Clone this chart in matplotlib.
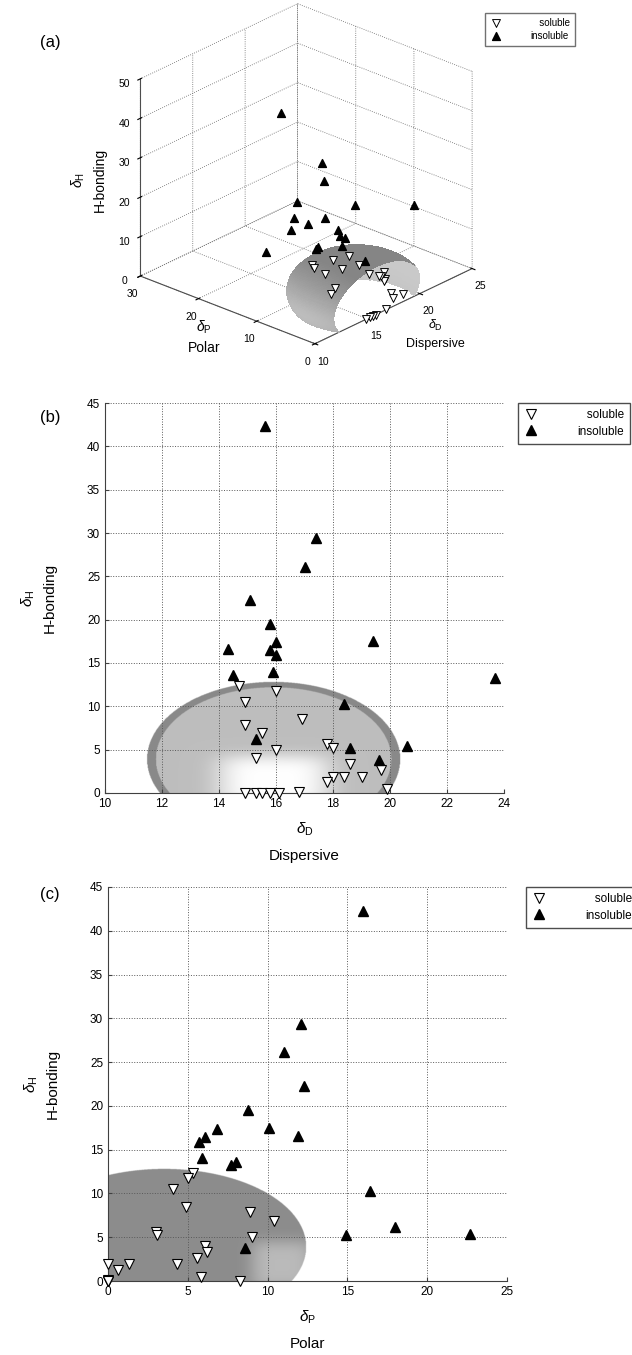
import numpy as np
import matplotlib
matplotlib.use('Agg')
import matplotlib.pyplot as plt

plt.rcParams['font.family'] = ['Liberation Sans', 'DejaVu Sans']
plt.rcParams['mathtext.fontset'] = 'custom'
plt.rcParams['mathtext.rm'] = 'Liberation Sans'
plt.rcParams['mathtext.it'] = 'Liberation Sans:italic'

# Hansen parameters of the solvents (dispersive, polar, H-bonding)
sol_D = [14.7, 16.0, 14.9, 16.9, 14.9, 15.5, 17.8, 18.0, 16.0, 15.3, 18.6, 19.7,
         18.0, 18.4, 19.0, 17.8, 19.9, 16.8, 14.9, 15.3, 15.5, 15.8, 16.1]
sol_P = [5.3, 5.0, 4.1, 4.9, 8.9, 10.4, 3.0, 3.1, 9.0, 6.1, 6.2, 5.6,
         1.3, 0.0, 4.3, 0.6, 5.8, 0.0, 0.0, 0.0, 0.0, 0.0, 8.3]
sol_H = [12.3, 11.8, 10.5, 8.5, 7.9, 6.9, 5.6, 5.2, 5.0, 4.0, 3.3, 2.6,
         1.9, 1.9, 1.9, 1.3, 0.5, 0.1, 0.0, 0.0, 0.0, 0.0, 0.0]

ins_D = [15.6, 17.4, 17.0, 15.1, 15.8, 19.4, 16.0, 14.3, 15.8, 16.0, 15.9, 14.5,
         23.7, 18.4, 15.3, 20.6, 18.6, 19.6]
ins_P = [16.0, 12.1, 11.0, 12.3, 8.8, 10.1, 6.8, 11.9, 6.1, 5.7, 5.9, 8.0,
         7.7, 16.4, 18.0, 22.7, 14.9, 8.6]
ins_H = [42.3, 29.4, 26.1, 22.3, 19.5, 17.5, 17.4, 16.6, 16.5, 15.9, 14.0, 13.6,
         13.3, 10.3, 6.2, 5.4, 5.2, 3.8]

# solubility sphere: centre and radius
sph_D, sph_P, sph_H, sph_R = 15.9, 3.5, 3.9, 8.9

W, H = 632, 1355
fig = plt.figure(figsize=(W / 100, H / 100), dpi=100)

lab_d = r'$\delta_{\mathrm{D}}$' + '\nDispersive'
lab_p = r'$\delta_{\mathrm{P}}$' + '\nPolar'
lab_h = r'$\delta_{\mathrm{H}}$' + '\nH-bonding'
# padded so the legend text sits flush right, like the original
leg_sol, leg_ins = '   soluble', 'insoluble'


def style2d(ax):
    for s in ('top', 'right'):
        ax.spines[s].set_visible(False)
    for s in ('left', 'bottom'):
        ax.spines[s].set_color('0.25')
        ax.spines[s].set_linewidth(0.8)
    ax.tick_params(direction='in', length=3, labelsize=8.5, color='0.25')
    ax.grid(True, linestyle=':', color='0.35', linewidth=0.7)


def markers2d(ax, x_sol, y_sol, x_ins, y_ins):
    ax.plot(x_sol, y_sol, 'v', mfc='white', mec='black', ms=7, mew=0.8,
            label=leg_sol, zorder=3, clip_on=False)
    ax.plot(x_ins, y_ins, '^', color='black', ms=7, label=leg_ins,
            zorder=3, clip_on=False)


def legend2d(ax, x):
    ax.legend(loc='upper left', bbox_to_anchor=(x, 1.0), fontsize=8.5,
              fancybox=False, edgecolor='0.3', framealpha=1,
              borderaxespad=0, handlelength=1.2, handletextpad=3.3,
              borderpad=0.5, labelspacing=0.4)


# ---------------- (b) H-bonding vs dispersive ----------------
axb = fig.add_axes([105 / W, 1 - 793 / H, 399 / W, 390 / H])
gd, gh = np.meshgrid(np.linspace(11, 21, 500), np.linspace(0, 13, 400))
r = np.sqrt(((gd - sph_D) / (sph_R / 2)) ** 2 + ((gh - sph_H) / sph_R) ** 2)
blob = np.exp(-(((gd - 15.9) / 2.0) ** 4 + ((gh - 1.4) / 3.0) ** 4))
gray = np.where(r > 0.93, 0.54, 0.745 + (1 - 0.745) * blob)
img = np.dstack([gray, gray, gray, (r <= 1).astype(float)])
axb.imshow(img, origin='lower', extent=[11, 21, 0, 13], aspect='auto',
           interpolation='bilinear', zorder=0)
markers2d(axb, sol_D, sol_H, ins_D, ins_H)
axb.set_xlim(10, 24)
axb.set_ylim(0, 45)
axb.set_xticks(np.arange(10, 25, 2))
axb.set_yticks(np.arange(0, 46, 5))
style2d(axb)
axb.set_xlabel(lab_d, fontsize=11, linespacing=1.95, labelpad=8)
axb.set_ylabel(lab_h, fontsize=11, linespacing=1.5, labelpad=22)
legend2d(axb, 1.035)
fig.text(40 / W, 1 - 417 / H, '(b)', fontsize=12, va='center')

# ---------------- (c) H-bonding vs polar ----------------
axc = fig.add_axes([108 / W, 1 - 1281 / H, 399 / W, 394 / H])
gp, gh = np.meshgrid(np.linspace(0, 13, 500), np.linspace(0, 13, 500))
r = np.sqrt(((gp - sph_P) / sph_R) ** 2 + ((gh - sph_H) / sph_R) ** 2)
blob = np.exp(-(((gp - 10.9) / 2.0) ** 4 + ((gh - 1.8) / 2.9) ** 4))
gray = 0.55 + (0.73 - 0.55) * blob
img = np.dstack([gray, gray, gray, (r <= 1).astype(float)])
axc.imshow(img, origin='lower', extent=[0, 13, 0, 13], aspect='auto',
           interpolation='bilinear', zorder=0)
markers2d(axc, sol_P, sol_H, ins_P, ins_H)
axc.set_xlim(0, 25)
axc.set_ylim(0, 45)
axc.set_xticks(np.arange(0, 26, 5))
axc.set_yticks(np.arange(0, 46, 5))
style2d(axc)
axc.set_xlabel(lab_p, fontsize=11, linespacing=1.95, labelpad=8)
axc.set_ylabel(lab_h, fontsize=11, linespacing=1.5, labelpad=22)
legend2d(axc, 1.048)
fig.text(40 / W, 1 - 894 / H, '(c)', fontsize=12, va='center')

# ---------------- (a) 3D view ----------------
elev, azim = 25.5, -138
aspect = np.array([1.0, 1.0, 0.93])
ax3 = fig.add_axes([0.1709, 0.7255, 0.6108, 0.2849], projection='3d',
                   proj_type='ortho', computed_zorder=False)
ax3.view_init(elev=elev, azim=azim)
ax3.set_box_aspect(aspect)
ax3.set_xlim(10, 25)
ax3.set_ylim(0, 30)
ax3.set_zlim(0, 50)

# shell of the sphere, open on the polar = 0 wall and on the floor
theta = np.linspace(0, np.arccos(-sph_P / sph_R), 110)
phi = np.linspace(0, 2 * np.pi, 180)
T, PH = np.meshgrid(theta, phi)
X = sph_D + (sph_R / 2) * np.sin(T) * np.cos(PH)
Y = sph_P + sph_R * np.cos(T)
Z = sph_H + sph_R * np.sin(T) * np.sin(PH)
scale = aspect / np.array([15.0, 30.0, 50.0])
nx = (X - sph_D) / (sph_R / 2) ** 2 / scale[0]
ny = (Y - sph_P) / sph_R ** 2 / scale[1]
nz = (Z - sph_H) / sph_R ** 2 / scale[2]
nn = np.sqrt(nx ** 2 + ny ** 2 + nz ** 2)
nx, ny, nz = nx / nn, ny / nn, nz / nn
e, a = np.radians(elev), np.radians(azim)
cam = np.array([np.cos(e) * np.cos(a), np.cos(e) * np.sin(a), np.sin(e)])
facing = nx * cam[0] + ny * cam[1] + nz * cam[2]
light = np.array([-1.0, 0.15, -0.25])
light = light / np.linalg.norm(light)
lit = nx * light[0] + ny * light[1] + nz * light[2]
g3 = np.where(facing > 0, 0.52 + 0.22 * np.clip(lit, 0, 1),
              0.76 + 0.03 * np.clip(-lit, 0, 1))
Zc = 0.25 * (Z[:-1, :-1] + Z[1:, :-1] + Z[:-1, 1:] + Z[1:, 1:])
alpha = np.ones_like(X)
alpha[:-1, :-1] = (Zc >= 0).astype(float)
fc = np.dstack([g3, g3, g3, alpha])
ax3.plot_surface(X, Y, np.maximum(Z, 0), facecolors=fc, rstride=1, cstride=1,
                 linewidth=0, antialiased=False, shade=False)
ax3.scatter(sol_D, sol_P, sol_H, marker='v', facecolors='white',
            edgecolors='black', s=32, linewidths=0.7, depthshade=False,
            label=leg_sol)
ax3.scatter(ins_D, ins_P, ins_H, marker='^', c='black', s=32,
            depthshade=False, label=leg_ins)

ax3.set_xticks([10, 15, 20, 25])
ax3.set_yticks([0, 10, 20, 30])
ax3.set_zticks(np.arange(0, 51, 10))
ax3.tick_params(labelsize=7.5, pad=-1)
for axis in (ax3.xaxis, ax3.yaxis, ax3.zaxis):
    axis.set_pane_color((1, 1, 1, 0))
    axis.pane.set_edgecolor('none')
    axis._axinfo['grid'].update(color='0.4', linewidth=0.6, linestyle=':')
    axis.line.set_color('0.3')
    axis.line.set_linewidth(0.8)

fig.text(88 / W, 1 - 180 / H, lab_h, fontsize=10, rotation=90,
         ha='center', va='center', linespacing=1.5)
fig.text(204 / W, 1 - 337 / H, lab_p, fontsize=10, ha='center', va='center',
         linespacing=1.5)
fig.text(435 / W, 1 - 334 / H, lab_d, fontsize=9, ha='center', va='center',
         linespacing=1.5)
fig.text(40 / W, 1 - 43 / H, '(a)', fontsize=12, va='center')
fig.legend(*ax3.get_legend_handles_labels(), loc='upper left',
           bbox_to_anchor=(485 / W, 1 - 13 / H), fontsize=7, fancybox=False,
           edgecolor='0.3', borderaxespad=0, handlelength=1.2,
           handletextpad=3.0, borderpad=0.5, labelspacing=0.3)

fig.savefig('out.png', dpi=100, facecolor='white')
